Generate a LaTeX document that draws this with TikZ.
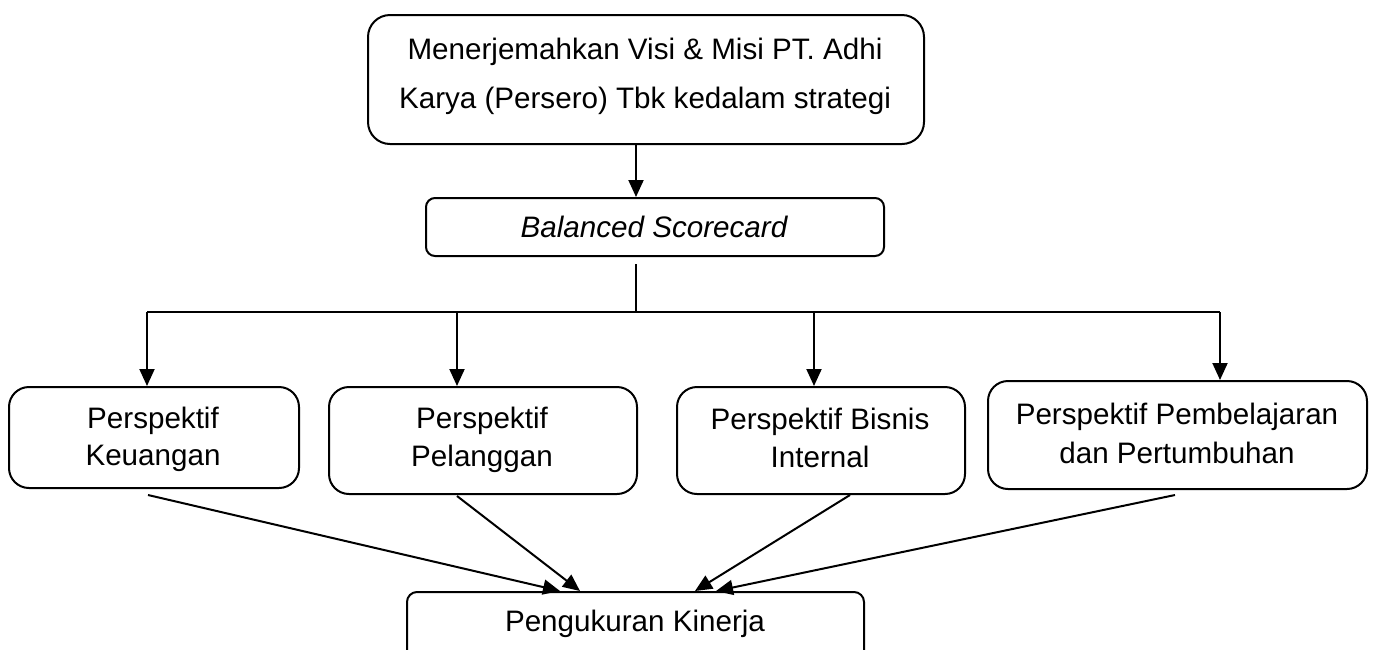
\documentclass[tikz,border=0pt]{standalone}
\usepackage{fontspec}
\setmainfont{Liberation Sans}
\usetikzlibrary{arrows.meta}
\begin{document}
\begin{tikzpicture}[x=1pt,y=-1pt]
\tikzset{
 boxs/.style={draw, line width=2pt, rounded corners=#1, inner sep=0pt, anchor=north west},
 lbl/.style={anchor=base, inner sep=0pt, font=\fontsize{29.6}{35}\selectfont},
 arr/.style={line width=2pt, -{Triangle[length=17pt,width=15pt]}},
 ln/.style={line width=2pt},
}
\useasboundingbox (0,0) rectangle (1373,649);
\clip (0,0) rectangle (1373,649);
\fill[white] (0,0) rectangle (1373,649);
% boxes
\node[boxs=22pt, minimum width=556pt, minimum height=129pt] (top) at (367,14) {};
\node[boxs=9pt, minimum width=458pt, minimum height=58pt] (bsc) at (425,197) {};
\node[boxs=20pt, minimum width=290pt, minimum height=101pt] (b1) at (8,386) {};
\node[boxs=20pt, minimum width=308pt, minimum height=107pt] (b2) at (328,386) {};
\node[boxs=20pt, minimum width=288pt, minimum height=107pt] (b3) at (676,386) {};
\node[boxs=20pt, minimum width=379pt, minimum height=108pt] (b4) at (987,380) {};
\node[boxs=10pt, minimum width=457pt, minimum height=110pt] (bot) at (406,591) {};
% labels
\node[lbl] (t1) at (645,59) {Menerjemahkan Visi \& Misi PT. Adhi};
\node[lbl] (t2) at (645,108) {Karya (Persero) Tbk kedalam strategi};
\node[lbl] (t3) at (654,237) {\itshape Balanced Scorecard};
\node[lbl] (t4) at (153,428) {Perspektif};
\node[lbl] (t5) at (153,465) {Keuangan};
\node[lbl] (t6) at (482,428) {Perspektif};
\node[lbl] (t7) at (482,466) {Pelanggan};
\node[lbl] (t8) at (820,429) {Perspektif Bisnis};
\node[lbl] (t9) at (820,467) {Internal};
\node[lbl] (t10) at (1177,424) {Perspektif Pembelajaran};
\node[lbl] (t11) at (1177,463) {dan Pertumbuhan};
\node[lbl] (t12) at (635,631) {Pengukuran Kinerja};
% coordinates
\coordinate (c) at (636,0);
\coordinate (hub) at (636,312);
\coordinate (j1) at (147,312);
\coordinate (j2) at (457,312);
\coordinate (j3) at (814,312);
\coordinate (j4) at (1220,312);
\coordinate (s1) at (148,0);
\coordinate (s2) at (457,0);
\coordinate (s3) at (850,0);
\coordinate (s4) at (1175,0);
\coordinate (e1) at (560,0);
\coordinate (e2) at (580,0);
\coordinate (e3) at (695,0);
\coordinate (e4) at (716,0);
% connectors
\draw[arr] (top.south -| c) -- (bsc.north -| c);
\draw[ln] ([yshift=-7pt]bsc.south -| c) -- (hub);
\draw[ln] (j1) -- (j4);
\draw[arr] (j1) -- (j1 |- b1.north);
\draw[arr] (j2) -- (j2 |- b2.north);
\draw[arr] (j3) -- (j3 |- b3.north);
\draw[arr] (j4) -- (j4 |- b4.north);
\draw[arr] ([yshift=-6pt]b1.south -| s1) -- (bot.north -| e1);
\draw[arr] ([yshift=-1pt]b2.south -| s2) -- (bot.north -| e2);
\draw[arr] ([yshift=0pt]b3.south -| s3) -- (bot.north -| e3);
\draw[arr] ([yshift=-5pt]b4.south -| s4) -- (bot.north -| e4);
\end{tikzpicture}
\end{document}
